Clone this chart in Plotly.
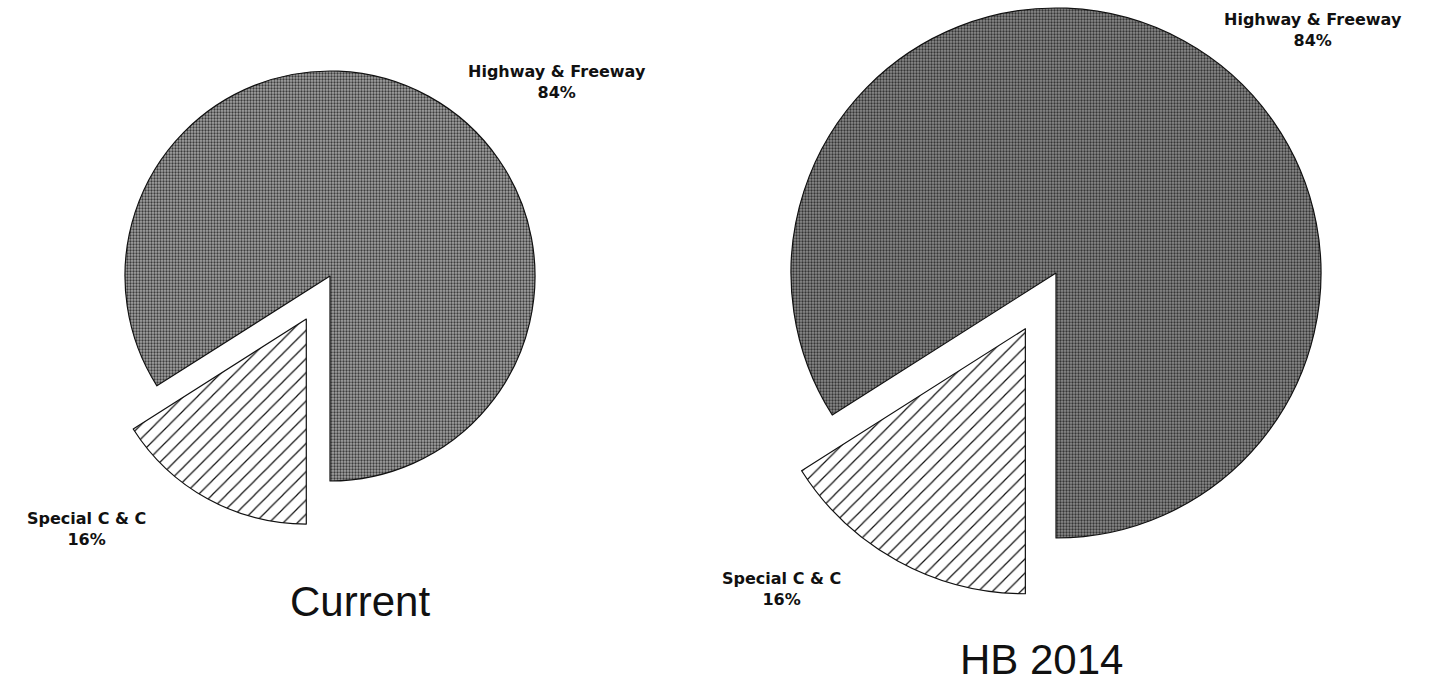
import math
import plotly.graph_objects as go

# Funding split, before and after the bill
labels = ["Special C & C", "Highway & Freeway"]
current_share = [16, 84]
hb2014_share = [16, 84]
titles = ["Current", "HB 2014"]

W, H = 1440, 686
PULL = 0.24          # fraction of radius the small slice is pulled out
START = 180          # first slice starts at 6 o'clock, runs clockwise

GRAY_FG = ["#3c3c3c", "#353535"]
GRAY_BG = ["#a4a4a4", "#8c8c8c"]

# pie centres / radii in pixels (layout only)
pies = [
    dict(values=current_share, cx=330, cy=276, r=205),
    dict(values=hb2014_share, cx=1056, cy=273, r=265),
]


def domain(cx, cy, r):
    return dict(
        x=[(cx - r) / W, (cx + r) / W],
        y=[(H - cy - r) / H, (H - cy + r) / H],
    )


fig = go.Figure()
for i, p in enumerate(pies):
    vals = p["values"]
    # main pie: only the large slice is visible
    fig.add_trace(go.Pie(
        labels=labels, values=vals, sort=False, direction="clockwise",
        rotation=START, textinfo="none", hoverinfo="label+percent",
        showlegend=False, domain=domain(p["cx"], p["cy"], p["r"]),
        marker=dict(
            colors=["rgba(0,0,0,0)", GRAY_BG[i]],
            line=dict(color=["rgba(0,0,0,0)", "#111"], width=[0, 1.2]),
            pattern=dict(shape=["", "."], size=3, solidity=0.45,
                         fgcolor=["rgba(0,0,0,0)", GRAY_FG[i]],
                         bgcolor=["rgba(0,0,0,0)", GRAY_BG[i]],
                         fillmode="replace"),
        ),
    ))
    # exploded small slice, offset along its bisector
    total = sum(vals)
    mid = math.radians(START + 360 * vals[0] / total / 2)
    dx = p["r"] * PULL * math.sin(mid)
    dy = p["r"] * PULL * math.cos(mid)   # screen y points down
    fig.add_trace(go.Pie(
        labels=labels, values=vals, sort=False, direction="clockwise",
        rotation=START, textinfo="none", hoverinfo="label+percent",
        showlegend=False,
        domain=domain(p["cx"] + dx, p["cy"] - dy, p["r"]),
        marker=dict(
            colors=["white", "rgba(0,0,0,0)"],
            line=dict(color=["#111", "rgba(0,0,0,0)"], width=[1.2, 0]),
            pattern=dict(shape=["/", ""], size=10, solidity=0.12,
                         fgcolor=["#111", "rgba(0,0,0,0)"],
                         bgcolor=["white", "rgba(0,0,0,0)"],
                         fillmode="replace"),
        ),
    ))

label_font = dict(family="DejaVu Sans", size=16, color="#111", weight="bold")
title_font = dict(family="Liberation Sans", size=42, color="#111")


def pct(v):
    return f"{v}%"


annotations = [
    dict(x=557 / W, y=1 - 82 / H, text=f"{labels[1]}<br>{pct(current_share[1])}"),
    dict(x=86 / W, y=1 - 529 / H, text=f"{labels[0]}<br>{pct(current_share[0])}"),
    dict(x=1313 / W, y=1 - 30 / H, text=f"{labels[1]}<br>{pct(hb2014_share[1])}"),
    dict(x=782 / W, y=1 - 589 / H, text=f"{labels[0]}<br>{pct(hb2014_share[0])}"),
]
for a in annotations:
    a.update(xref="paper", yref="paper", showarrow=False, font=label_font,
             xanchor="center", yanchor="middle", align="center")

annotations += [
    dict(x=360 / W, y=1 - 601 / H, text=titles[0]),
    dict(x=1041 / W, y=1 - 659 / H, text=titles[1]),
]
for a in annotations[-2:]:
    a.update(xref="paper", yref="paper", showarrow=False, font=title_font,
             xanchor="center", yanchor="middle")

fig.update_layout(
    width=W, height=H, margin=dict(l=0, r=0, t=0, b=0),
    paper_bgcolor="white", plot_bgcolor="white",
    annotations=annotations,
)

fig.write_html("out.html")
